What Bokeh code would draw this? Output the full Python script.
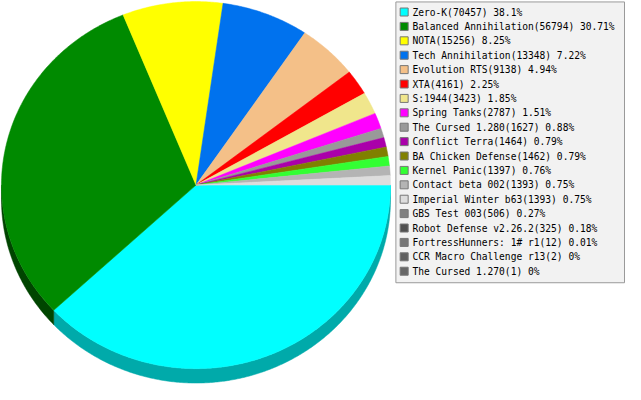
import numpy as np
from bokeh.plotting import figure
from bokeh.models import Range1d, ColumnDataSource
from bokeh.core.properties import value
from bokeh.embed import file_html
from bokeh.resources import INLINE

# ---- data ----
categories = [
    "Zero-K", "Balanced Annihilation", "NOTA", "Tech Annihilation", "Evolution RTS",
    "XTA", "S:1944", "Spring Tanks", "The Cursed 1.280", "Conflict Terra",
    "BA Chicken Defense", "Kernel Panic", "Contact beta 002", "Imperial Winter b63",
    "GBS Test 003", "Robot Defense v2.26.2", "FortressHunners: 1# r1", "CCR Macro Challenge r13",
    "The Cursed 1.270",
]
counts = [70457, 56794, 15256, 13348, 9138, 4161, 3423, 2787, 1627, 1464,
          1462, 1397, 1393, 1393, 506, 325, 12, 2, 1]
colors = ["#00ffff", "#008a00", "#ffff00", "#0072ee", "#f4c088", "#ff0000", "#f0e68c",
          "#ff00ff", "#999999", "#aa00aa", "#808000", "#33ff33", "#b4b4b4", "#dddddd",
          "#808080", "#505050", "#777777", "#606060", "#666666"]
side_colors = ["#00aaaa", "#004500", "#aaaa00", "#004c9e", "#a3805a", "#aa0000", "#a09a5d",
               "#aa00aa", "#666666", "#710071", "#555500", "#22aa22", "#787878", "#939393",
               "#555555", "#353535", "#4f4f4f", "#404040", "#444444"]

# ---- geometry (reference pixel space) ----
CX, CY, RX, RY, DEPTH = 200.5, 192.3, 199.5, 191.2, 15

p = figure(width=625, height=384, x_range=Range1d(0, 641), y_range=Range1d(400, 0),
           output_backend="svg", toolbar_location=None, min_border=0,
           x_axis_location=None, y_axis_location=None)
p.grid.visible = False
p.outline_line_color = None
p.background_fill_color = "white"
p.border_fill_color = "white"

vals = np.array(counts, dtype=float)
total = vals.sum()
# slice angles in whole degrees, clipped at a full turn (as in the original renderer)
degs = np.round(vals / total * 360.0)
ends_d = np.minimum(np.cumsum(degs), 360.0)
starts_d = np.minimum(np.cumsum(degs) - degs, 360.0)
starts = np.deg2rad(starts_d)
ends = np.deg2rad(ends_d)

def arc(a0, a1):
    n = max(2, int((a1 - a0) / (2 * np.pi) * 720) + 2)
    t = np.linspace(a0, a1, n)
    return CX + RX * np.cos(t), CY + RY * np.sin(t)

# side faces (visible lower half: screen angles 0..pi)
sx, sy, sc = [], [], []
for a0, a1, c in zip(starts, ends, side_colors):
    lo, hi = max(a0, 0.0), min(a1, np.pi)
    if hi <= lo:
        continue
    ax, ay = arc(lo, hi)
    sx.append(list(ax) + list(ax[::-1]))
    sy.append(list(ay) + list(ay[::-1] + DEPTH))
    sc.append(c)
p.patches(xs=sx, ys=sy, fill_color=sc, line_color=sc, line_width=0.5)

# top faces
tx, ty, tc = [], [], []
for a0, a1, c in zip(starts, ends, colors):
    if a1 <= a0:
        continue
    ax, ay = arc(a0, a1)
    tx.append([CX] + list(ax))
    ty.append([CY] + list(ay))
    tc.append(c)
p.patches(xs=tx, ys=ty, fill_color=tc, line_color=tc, line_width=0.5)

# ---- legend ----
p.quad(left=[405.5], right=[640], top=[1.5], bottom=[294], fill_color="#f2f2f2",
       line_color="#999999", line_width=1)

rows = np.arange(len(categories)) * 15 + 12
labels = [f"{c}({v}) {round(v / total * 100, 2):g}%" for c, v in zip(categories, counts)]
src = ColumnDataSource(dict(y=rows, c=colors, t=labels, x=[414] * len(rows), tx=[422.5] * len(rows)))
p.scatter(x="x", y="y", marker="square", size=8, fill_color="c", line_color="#777777",
          line_width=1, source=src)
p.text(x="tx", y="y", text="t", source=src, text_font=value("DejaVu Sans Mono"),
       text_font_size="9.6px", text_baseline="middle", text_color="black")

open("out.html", "w").write(file_html(p, INLINE))
